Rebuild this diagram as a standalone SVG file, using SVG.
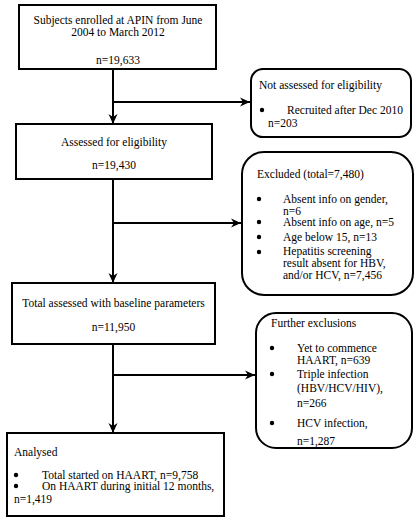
<svg xmlns="http://www.w3.org/2000/svg" width="420" height="522" viewBox="0 0 420 522">
<defs>
<style>
.box{fill:#fff;stroke:#000;stroke-width:2}
.t{font-family:"Liberation Serif","Times New Roman",serif;font-size:11.5px;fill:#000}
.c{text-anchor:middle}
.ln{stroke:#000;stroke-width:2;fill:none}
</style>
<marker id="ah" markerUnits="userSpaceOnUse" markerWidth="12" markerHeight="12" viewBox="0 0 12 12" refX="11" refY="6" orient="auto">
<path d="M1,1.5 L11,6 L1,10.5 L4,6 z" fill="#000"/>
</marker>
</defs>
<rect width="420" height="522" fill="#fff"/>
<g id="connectors">
<line class="ln" x1="113" y1="69" x2="113" y2="124" marker-end="url(#ah)"/>
<line class="ln" x1="112" y1="102" x2="250" y2="102" marker-end="url(#ah)"/>
<line class="ln" x1="113" y1="179" x2="113" y2="283" marker-end="url(#ah)"/>
<line class="ln" x1="112" y1="223" x2="241" y2="223" marker-end="url(#ah)"/>
<line class="ln" x1="113" y1="344" x2="113" y2="433" marker-end="url(#ah)"/>
<line class="ln" x1="112" y1="375" x2="255" y2="375" marker-end="url(#ah)"/>
</g>
<g id="enrolled">
<rect class="box" x="19" y="5" width="197" height="64"/>
<text class="t c" x="118" y="24">Subjects enrolled at APIN from June</text>
<text class="t c" x="118" y="36">2004 to March  2012</text>
<text class="t c" x="118" y="64">n=19,633</text>
</g>
<g id="not-assessed">
<rect class="box" x="251" y="69" width="160" height="68" rx="12"/>
<text class="t" x="259" y="89">Not assessed for eligibility</text>
<circle cx="262" cy="110" r="2.2"/>
<text class="t" x="287" y="114">Recruited after Dec 2010</text>
<text class="t" x="268" y="127">n=203</text>
</g>
<g id="assessed">
<rect class="box" x="16" y="124" width="196" height="55"/>
<text class="t c" x="114" y="146">Assessed for eligibility</text>
<text class="t c" x="114" y="169">n=19,430</text>
</g>
<g id="excluded">
<rect class="box" x="242" y="152" width="171" height="143" rx="22"/>
<text class="t" x="257" y="178">Excluded (total=7,480)</text>
<circle cx="259" cy="199" r="2.2"/>
<text class="t" x="283" y="203">Absent info on gender,</text>
<text class="t" x="283" y="215">n=6</text>
<circle cx="259" cy="222" r="2.2"/>
<text class="t" x="283" y="226">Absent info on age, n=5</text>
<circle cx="259" cy="237" r="2.2"/>
<text class="t" x="283" y="241">Age below 15, n=13</text>
<circle cx="259" cy="252" r="2.2"/>
<text class="t" x="283" y="255">Hepatitis screening</text>
<text class="t" x="283" y="267">result absent for HBV,</text>
<text class="t" x="283" y="279">and/or HCV, n=7,456</text>
</g>
<g id="baseline">
<rect class="box" x="12" y="283" width="203" height="61"/>
<text class="t c" x="113.5" y="307">Total assessed with baseline parameters</text>
<text class="t c" x="113.5" y="331">n=11,950</text>
</g>
<g id="further">
<rect class="box" x="256" y="313" width="156" height="135" rx="20"/>
<text class="t" x="271" y="327">Further exclusions</text>
<circle cx="272" cy="348" r="2.2"/>
<text class="t" x="297" y="352">Yet to commence</text>
<text class="t" x="297" y="364">HAART, n=639</text>
<circle cx="272" cy="374" r="2.2"/>
<text class="t" x="297" y="378">Triple infection</text>
<text class="t" x="297" y="392">(HBV/HCV/HIV),</text>
<text class="t" x="297" y="407">n=266</text>
<circle cx="272" cy="423" r="2.2"/>
<text class="t" x="297" y="427">HCV infection,</text>
<text class="t" x="297" y="445">n=1,287</text>
</g>
<g id="analysed">
<rect class="box" x="7" y="433" width="217" height="83"/>
<text class="t" x="14" y="456">Analysed</text>
<circle cx="16" cy="475" r="2.2"/>
<text class="t" x="42" y="479">Total started on HAART, n=9,758</text>
<circle cx="16" cy="486" r="2.2"/>
<text class="t" x="42" y="490">On HAART during initial 12 months,</text>
<text class="t" x="14" y="503">n=1,419</text>
</g>
</svg>
